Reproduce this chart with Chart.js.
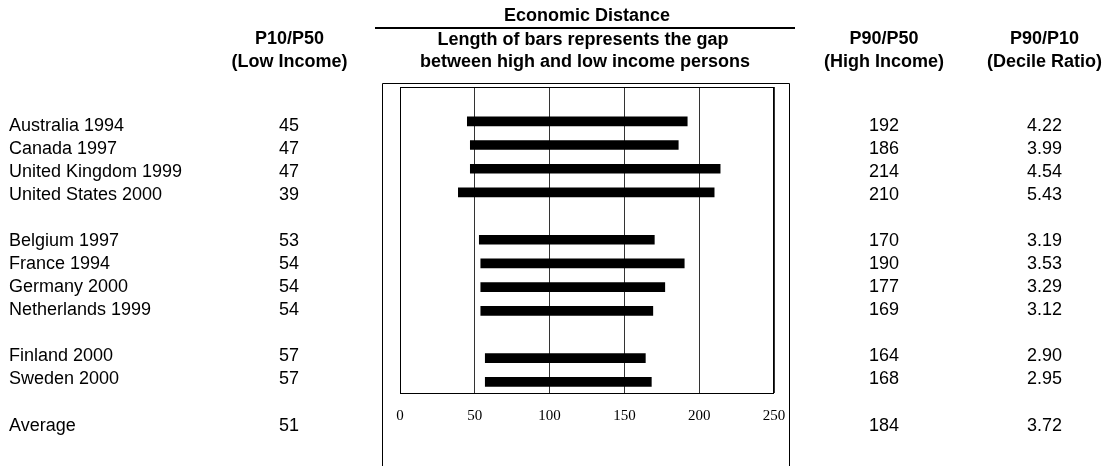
<!DOCTYPE html>
<html>
<head>
<meta charset="utf-8">
<script src="https://cdn.jsdelivr.net/npm/chart.js@4.4.0/dist/chart.umd.min.js"></script>
<style>
  html, body { margin: 0; padding: 0; background: #fff; }
  #wrap { width: 1108px; height: 466px; }
</style>
</head>
<body>
<div id="wrap"><canvas id="gapChart" width="1108" height="466"></canvas></div>
<script>
// table rows (row index 4 and 9 are blank spacer rows, 12 blank, 13 = average)
const countries = ['Australia 1994', 'Canada 1997', 'United Kingdom 1999', 'United States 2000',
                   'Belgium 1997', 'France 1994', 'Germany 2000', 'Netherlands 1999',
                   'Finland 2000', 'Sweden 2000'];
const rowIndex = [0, 1, 2, 3, 5, 6, 7, 8, 10, 11];
const p10 = [45, 47, 47, 39, 53, 54, 54, 54, 57, 57];
const p90 = [192, 186, 214, 210, 170, 190, 177, 169, 164, 168];
const decileRatio = ['4.22', '3.99', '4.54', '5.43', '3.19', '3.53', '3.29', '3.12', '2.90', '2.95'];

const avgLabel = 'Average';
const avgRow = 13;
const avgP10 = 51;
const avgP90 = 184;
const avgRatio = '3.72';

const xTicks = [0, 50, 100, 150, 200, 250];

const SANS = '"Liberation Sans", Arial, sans-serif';

// headers + table columns drawn around the plot
const tablePlugin = {
    id: 'tableText',
    afterDraw(chart) {
        const ctx = chart.ctx;
        const area = chart.chartArea;
        ctx.save();

        // plot box
        ctx.strokeStyle = '#000';
        ctx.lineWidth = 1;
        ctx.strokeRect(Math.round(area.left) + 0.5, Math.round(area.top) + 0.5,
                       Math.round(area.right - area.left) - 1, Math.round(area.bottom - area.top));

        // outer frame (open at the bottom)
        ctx.beginPath();
        ctx.moveTo(382.5, 466);
        ctx.lineTo(382.5, 83.5);
        ctx.lineTo(789.5, 83.5);
        ctx.lineTo(789.5, 466);
        ctx.stroke();

        // rule under "Economic Distance"
        ctx.fillStyle = '#000';
        ctx.fillRect(375, 27, 420, 2);

        // headers
        ctx.textBaseline = 'middle';
        ctx.textAlign = 'center';
        ctx.font = 'bold 18px ' + SANS;
        ctx.fillText('Economic Distance', 587, 16.5);
        ctx.fillText('Length of bars represents the gap', 583, 40);
        ctx.fillText('between high and low income persons', 585, 62.5);
        ctx.fillText('P10/P50', 289.5, 39.5);
        ctx.fillText('(Low Income)', 289.5, 62);
        ctx.fillText('P90/P50', 884, 39.5);
        ctx.fillText('(High Income)', 884, 62);
        ctx.fillText('P90/P10', 1044.5, 39.5);
        ctx.fillText('(Decile Ratio)', 1044.5, 62);

        // body rows
        const y0 = 126.2, step = 23.03;
        ctx.font = '18px ' + SANS;
        const drawRow = (row, name, lo, hi, ratio) => {
            const y = y0 + row * step;
            ctx.textAlign = 'left';
            ctx.fillText(name, 9, y);
            ctx.textAlign = 'center';
            ctx.fillText(String(lo), 289, y);
            ctx.fillText(String(hi), 884, y);
            ctx.fillText(ratio, 1044.5, y);
        };
        countries.forEach((c, i) => drawRow(rowIndex[i], c, p10[i], p90[i], decileRatio[i]));
        drawRow(avgRow, avgLabel, avgP10, avgP90, avgRatio);

        ctx.restore();
    }
};

const ctx = document.getElementById('gapChart').getContext('2d');
new Chart(ctx, {
    type: 'bar',
    data: {
        datasets: [{
            data: rowIndex.map((r, i) => ({ x: [p10[i], p90[i]], y: r })),
            backgroundColor: '#000',
            borderWidth: 0,
            barThickness: 9
        }]
    },
    options: {
        indexAxis: 'y',
        responsive: false,
        animation: false,
        devicePixelRatio: 1,
        layout: { padding: { left: 400, right: 334, top: 87, bottom: 0 } },
        plugins: { legend: { display: false }, tooltip: { enabled: false } },
        scales: {
            x: {
                type: 'linear',
                min: 0,
                max: 250,
                afterBuildTicks: s => { s.ticks = xTicks.map(v => ({ value: v })); },
                afterFit: s => { s.height = 466 - 393; },
                border: { display: false },
                grid: { color: '#333', lineWidth: 1, drawTicks: false },
                ticks: {
                    padding: 14,
                    color: '#000',
                    font: { family: '"Liberation Serif", "Times New Roman", serif', size: 15 }
                }
            },
            y: {
                type: 'linear',
                reverse: true,
                offset: false,
                min: -1.45,
                max: 11.47,
                display: false
            }
        }
    },
    plugins: [tablePlugin]
});
</script>
</body>
</html>
